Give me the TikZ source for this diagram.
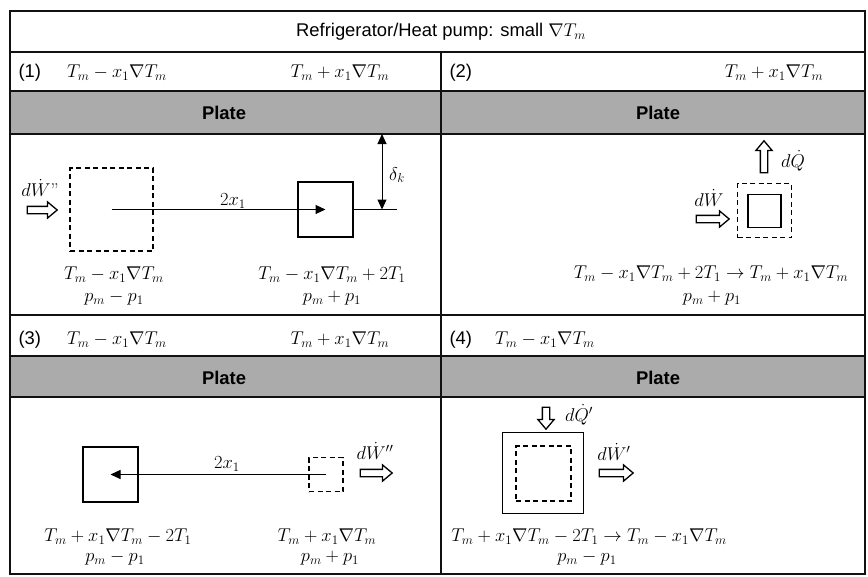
\RequirePackage{fix-cm}
\documentclass[tikz,border=0pt]{standalone}
\usepackage{amsmath,amssymb}
\usepackage{fontspec}
\setsansfont{Liberation Sans}
\usetikzlibrary{arrows.meta,shapes.arrows}
\definecolor{grisPlaca}{HTML}{ABABAB}
\definecolor{negroP}{HTML}{111111}

\begin{document}
\begin{tikzpicture}[x=1pt,y=-1pt,>={Triangle[length=10pt,width=9pt]},
  every node/.style={font=\fontsize{18.5}{22}\selectfont},
  caja/.style={draw,line width=1.8pt,minimum size=#1,inner sep=0pt},
  cajaraya/.style={caja=#1,dash pattern=on 5pt off 3.5pt},
  flecha/.style={single arrow,draw,line width=1.3pt,inner xsep=0pt,inner ysep=3pt,
    single arrow head extend=4.5pt,single arrow tip angle=80,minimum height=#1},
  etiq/.style={inner sep=1pt},
  titulo/.style={font=\fontsize{18.4}{22}\selectfont\sffamily},
  placa/.style={font=\fontsize{18.4}{22}\selectfont\sffamily\bfseries}]
  \useasboundingbox (0,0) rectangle (868,576);
  \fill[grisPlaca] (10,91) rectangle (865,134);
  \fill[grisPlaca] (10,356) rectangle (865,397);
  \draw[negroP,line width=2.6pt] (10,11) rectangle (865,574);
  \foreach \yy in {52,91,134,315,356,397}
    \draw[negroP,line width=2.2pt] (10,\yy) -- (865,\yy);
  \draw[negroP,line width=2.2pt] (441,52) -- (441,574);
  \node[titulo] (titulo) at (441,32) {Refrigerator/Heat pump: small $\nabla T_m$};
  % cabeceras
  \node[titulo,anchor=west] (num1) at (15,73) {(1)};
  \node (tizq1) at (117,73) {$T_m - x_1\nabla T_m$};
  \node (tder1) at (340,73) {$T_m + x_1\nabla T_m$};
  \node[titulo,anchor=west] (num2) at (446,73) {(2)};
  \node (tder2) at (774,73) {$T_m + x_1\nabla T_m$};
  \node[placa] (placa1) at (224,113) {Plate};
  \node[placa] (placa2) at (658,113) {Plate};
  \node[titulo,anchor=west] (num3) at (15,340) {(3)};
  \node (tizq3) at (117,340) {$T_m - x_1\nabla T_m$};
  \node (tder3) at (340,340) {$T_m + x_1\nabla T_m$};
  \node[titulo,anchor=west] (num4) at (446,340) {(4)};
  \node (tizq4) at (545,340) {$T_m - x_1\nabla T_m$};
  \node[placa] (placa3) at (224,378) {Plate};
  \node[placa] (placa4) at (658,378) {Plate};
  % paso 1
  \node[cajaraya=83] (fantasma1) at (111.5,209.5) {};
  \node[caja=55] (celda1) at (325.5,209.5) {};
  \coordinate (fin1) at (397,209.5);
  \coordinate (placabajo) at (382,134);
  \coordinate (linea1) at (382,209.5);
  \draw[line width=1pt,->] (fantasma1.center) -- (celda1.center);
  \draw[line width=1pt] (celda1.east) -- (fin1);
  \draw[line width=1pt,<->] (placabajo) -- (linea1);
  \node (dosx1) at (233,201) {$2x_1$};
  \node (delta1) at (397,175) {$\delta_k$};
  \node[flecha=30] (trabajo1) at (40,210) {};
  \node[etiq,anchor=base] (ltrabajo1) at (40,196) {$d\dot{W}$"};
  \node (et1) at (114,275) {$T_m - x_1\nabla T_m$};
  \node (ep1) at (114,298) {$p_m - p_1$};
  \node (et1b) at (332,275) {$T_m - x_1\nabla T_m + 2T_1$};
  \node (ep1b) at (332,298) {$p_m + p_1$};
  % paso 2
  \node[cajaraya=54] (volumen2) at (764.5,210.5) {};
  \node[caja=33] (celda2) at (764.5,211) {};
  \node[flecha=32,rotate=90] (calor2) at (764,159) {};
  \node[etiq,anchor=west] (lcalor2) at (780,161) {$d\dot{Q}$};
  \node[flecha=33] (trabajo2) at (710.5,219) {};
  \node[etiq,anchor=base] (ltrabajo2) at (709,206) {$d\dot{W}$};
  \node (et2) at (711,274) {$T_m - x_1\nabla T_m + 2T_1 \rightarrow T_m + x_1\nabla T_m$};
  \node (ep2) at (712,298) {$p_m + p_1$};
  % paso 3
  \node[caja=55] (celda3) at (110.5,474.5) {};
  \node[cajaraya=34] (fantasma3) at (326,474.5) {};
  \draw[line width=1pt,->] (fantasma3.center) -- (celda3.center);
  \node (dosx3) at (227,464) {$2x_1$};
  \node[flecha=32] (trabajo3) at (374,473) {};
  \node[etiq,anchor=base] (ltrabajo3) at (375,459) {$d\dot{W}''$};
  \node (et3) at (118,537) {$T_m + x_1\nabla T_m - 2T_1$};
  \node (ep3) at (115,558) {$p_m - p_1$};
  \node (et3b) at (327,537) {$T_m + x_1\nabla T_m$};
  \node (ep3b) at (330,558) {$p_m + p_1$};
  % paso 4
  \node[caja=81] (volumen4) at (543,473) {};
  \node[cajaraya=55] (celda4) at (543.5,473.5) {};
  \node[flecha=22,rotate=-90] (calor4) at (546,416) {};
  \node[etiq,anchor=west] (lcalor4) at (564,415) {$d\dot{Q}'$};
  \node[flecha=34] (trabajo4) at (614,473) {};
  \node[etiq,anchor=base] (ltrabajo4) at (614,460) {$d\dot{W}'$};
  \node (et4) at (589,537) {$T_m + x_1\nabla T_m - 2T_1 \rightarrow T_m - x_1\nabla T_m$};
  \node (ep4) at (587,558) {$p_m - p_1$};
\end{tikzpicture}
\end{document}
